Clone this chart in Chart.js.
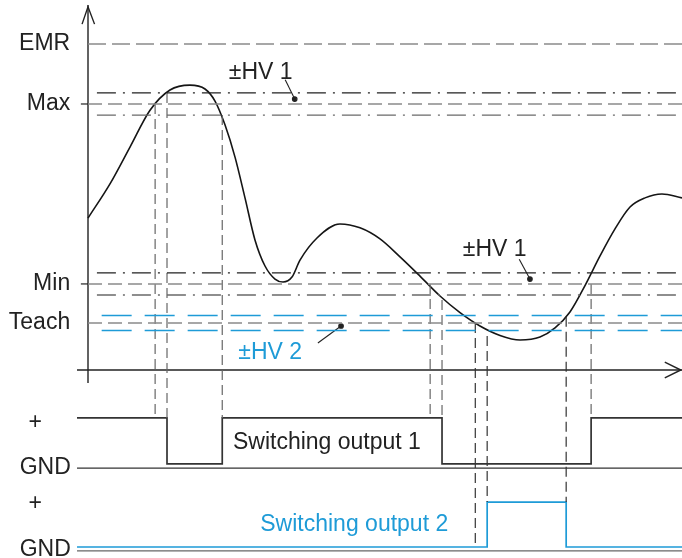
<!DOCTYPE html>
<html>
<head>
<meta charset="utf-8">
<script src="https://cdn.jsdelivr.net/npm/chart.js@4.4.0/dist/chart.umd.min.js"></script>
<style>
  body { margin: 0; background: #fff; }
  #wrap { width: 682px; height: 558px; }
</style>
</head>
<body>
<div id="wrap"><canvas id="chart"></canvas></div>
<script>
'use strict';

// measured signal (time, level)
let curveTime = [0, 3.70, 7.07, 10.44, 13.80, 17.17, 19.70, 21.38, 23.06, 24.75, 26.43, 28.11, 29.80, 31.48, 32.83, 34.34, 35.69, 38.55, 42.42, 45.79, 49.16, 52.53, 55.89, 59.26, 62.63, 65.99, 69.36, 72.73, 76.09, 78.62, 81.14, 83.67, 86.20, 88.72, 91.25, 93.77, 96.63, 100];
let curveLevel = [46.6, 57.1, 68.4, 79.7, 85.9, 87.4, 86.2, 82.5, 75.2, 65.3, 52.8, 39.9, 31.9, 27.9, 27.0, 28.5, 33.7, 40.5, 44.8, 43.6, 40.2, 34.7, 28.8, 22.7, 17.6, 13.5, 10.6, 9.2, 10.1, 12.9, 17.8, 25.9, 35.0, 43.3, 50.0, 52.8, 54.0, 52.8];

// threshold levels
let levelNames = ['EMR', 'Max', 'Min', 'Teach'];
let levelValues = [100, 81.6, 26.4, 14.4];
let hv1 = 3.4;
let hv2 = 2.3;

// switching outputs
let out1Times = [-1.85, 13.3, 22.6, 59.6, 84.7, 100];
let out1States = [1, 0, 1, 0, 1];
let out2Times = [-1.85, 67.2, 80.5, 100];
let out2States = [0, 1, 0];
let out1Levels = { high: -14.7, low: -28.8, gnd: -30.1 };
let out2Levels = { high: -40.5, low: -54.3, gnd: -55.5 };

// vertical helper lines (time, from level, to level)
let markTimes = [11.3, 13.3, 22.6, 57.6, 59.6, 65.2, 67.2, 80.5, 84.7];
let markTop = [81.6, 85.0, 78.2, 26.4, 21.5, 14.4, 10.4, 16.3, 26.4];
let markBottom = [-14.7, -14.7, -14.7, -14.7, -14.7, -54.3, -40.5, -40.5, -14.7];

const DARK = '#222222';
const GRAY = '#8a8a8a';
const BLUE = '#1e9bd7';

let datasets = [];

function seg(x1, y1, x2, y2, color, dash, width, dotEnd) {
  datasets.push({
    data: [{ x: x1, y: y1 }, { x: x2, y: y2 }],
    borderColor: color,
    backgroundColor: color,
    borderDash: dash || [],
    borderWidth: width || 1.2,
    pointRadius: dotEnd ? [0, 2.3] : 0,
    showLine: true,
    fill: false
  });
}

// horizontal level lines
seg(0, levelValues[0], 100, levelValues[0], GRAY, [18, 6], 1.4);
seg(0, levelValues[1], 100, levelValues[1], GRAY, [14, 6], 1.4);
seg(1.5, levelValues[1] + hv1, 100, levelValues[1] + hv1, DARK, [19, 7, 2, 7], 1.2);
seg(1.5, levelValues[1] - hv1, 100, levelValues[1] - hv1, '#6a6a6a', [19, 7, 2, 7], 1.4);
seg(0, levelValues[2], 100, levelValues[2], GRAY, [14, 6], 1.4);
seg(1.5, levelValues[2] + hv1, 100, levelValues[2] + hv1, DARK, [19, 7, 2, 7], 1.2);
seg(1.5, levelValues[2] - hv1, 100, levelValues[2] - hv1, '#6a6a6a', [19, 7, 2, 7], 1.4);
seg(0, levelValues[3], 100, levelValues[3], GRAY, [14, 6], 1.4);
seg(2.3, levelValues[3] + hv2, 100, levelValues[3] + hv2, BLUE, [30, 13], 1.4);
seg(2.3, levelValues[3] - hv2, 100, levelValues[3] - hv2, BLUE, [30, 13], 1.4);

// ticks on the level axis
seg(-1.2, levelValues[1], 0, levelValues[1], DARK, [], 1.2);
seg(-1.2, levelValues[2], 0, levelValues[2], DARK, [], 1.2);

// vertical helper lines
for (let i = 0; i < markTimes.length; i++) {
  let c = (i >= 5 && i <= 7) ? '#333333' : '#666666';
  seg(markTimes[i], markTop[i], markTimes[i], markBottom[i], c, [10, 5], 1.2);
}

// leader lines with dots
seg(33.2, 89.0, 34.8, 83.1, DARK, [], 1.1, true);
seg(72.6, 34.0, 74.4, 27.9, DARK, [], 1.1, true);
seg(38.7, 8.3, 42.6, 13.5, DARK, [], 1.1, true);

// signal curve
datasets.push({
  data: curveTime.map((t, i) => ({ x: t, y: curveLevel[i] })),
  borderColor: '#151515',
  borderWidth: 1.6,
  pointRadius: 0,
  showLine: true,
  cubicInterpolationMode: 'monotone'
});

function stepPoints(times, states, lv) {
  let pts = [];
  for (let i = 0; i < states.length; i++) {
    let y = states[i] ? lv.high : lv.low;
    pts.push({ x: times[i], y: y });
    pts.push({ x: times[i + 1], y: y });
  }
  return pts;
}

// ground lines and outputs
seg(-1.85, out1Levels.gnd, 100, out1Levels.gnd, '#333333', [], 1.2);
seg(-1.85, out2Levels.gnd, 100, out2Levels.gnd, '#666666', [], 1.2);
datasets.push({
  data: stepPoints(out1Times, out1States, out1Levels),
  borderColor: '#333333', borderWidth: 1.7, pointRadius: 0, showLine: true
});
datasets.push({
  data: stepPoints(out2Times, out2States, out2Levels),
  borderColor: BLUE, borderWidth: 1.7, pointRadius: 0, showLine: true
});

// axes with arrows
seg(0, 112, 0, -4, DARK, [], 1.4);
seg(-1.85, 0, 100, 0, DARK, [], 1.4);
datasets.push({
  data: [{ x: -1.0, y: 106.1 }, { x: 0, y: 111.4 }, { x: 1.1, y: 106.1 }],
  borderColor: DARK, borderWidth: 1.4, pointRadius: 0, showLine: true
});
datasets.push({
  data: [{ x: 97.1, y: 2.45 }, { x: 99.8, y: 0 }, { x: 97.1, y: -2.45 }],
  borderColor: DARK, borderWidth: 1.4, pointRadius: 0, showLine: true
});

let FONT = '23px "Liberation Sans", Arial, sans-serif';

let textPlugin = {
  id: 'texts',
  afterDatasetsDraw(chart) {
    let ctx = chart.ctx;
    let sx = chart.scales.x;
    let sy = chart.scales.y;
    function put(txt, t, v, align, color) {
      ctx.fillStyle = color || DARK;
      ctx.textAlign = align;
      ctx.fillText(txt, sx.getPixelForValue(t), sy.getPixelForValue(v));
    }
    ctx.save();
    ctx.font = FONT;
    ctx.textBaseline = 'middle';
    for (let i = 0; i < levelNames.length; i++) {
      put(levelNames[i], -3.0, levelValues[i], 'right');
    }
    put('+', -8.9, -16.0, 'center');
    put('+', -8.9, -40.9, 'center');
    put('GND', -2.9, out1Levels.gnd, 'right');
    put('GND', -2.9, -55.2, 'right');
    put('Switching output 1', 24.4, -22.4, 'left');
    put('Switching output 2', 29.0, -47.5, 'left', BLUE);
    put('\u00b1HV 1', 23.7, 91.2, 'left');
    put('\u00b1HV 1', 63.1, 37.0, 'left');
    put('\u00b1HV 2', 25.3, 5.4, 'left', BLUE);
    ctx.restore();
  }
};

new Chart(document.getElementById('chart'), {
  type: 'scatter',
  data: { datasets: datasets },
  options: {
    responsive: true,
    maintainAspectRatio: false,
    animation: false,
    layout: { padding: 0, autoPadding: false },
    clip: false,
    plugins: { legend: { display: false }, tooltip: { enabled: false } },
    scales: {
      x: { type: 'linear', min: -14.815, max: 100, display: false },
      y: { type: 'linear', min: -57.67, max: 113.5, display: false }
    }
  },
  plugins: [textPlugin]
});
</script>
</body>
</html>
